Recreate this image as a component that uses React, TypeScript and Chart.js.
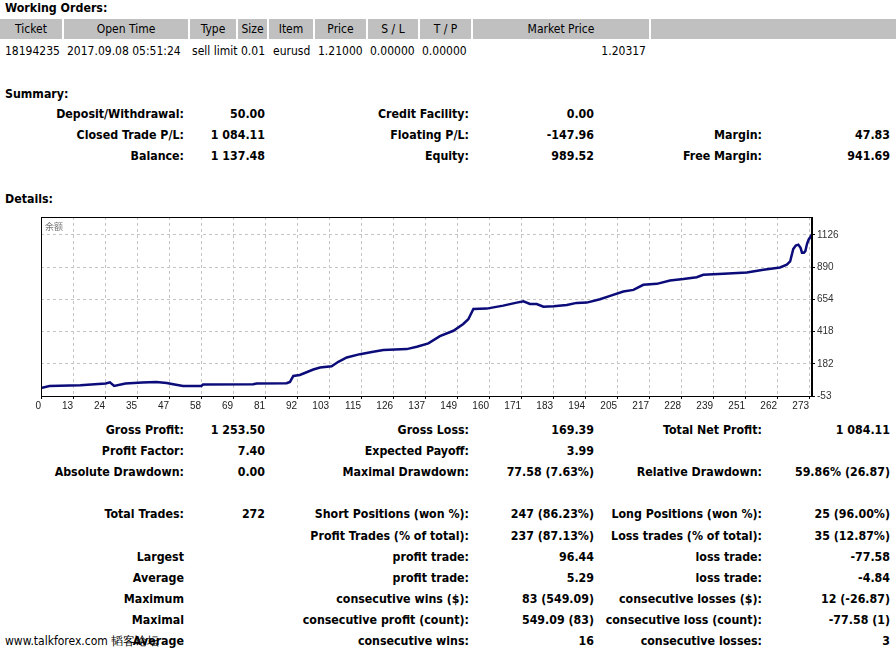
import React, { useEffect, useRef } from "react";
import { Chart, registerables } from "chart.js";

Chart.register(...registerables);

// ---------- data ----------
const xTickLabels = ["0", "13", "24", "35", "47", "58", "69", "81", "92", "103", "115", "126", "137", "149", "160", "171", "183", "194", "205", "217", "228", "239", "251", "262", "273"];
const yTickValues = [-53, 182, 418, 654, 890, 1126];
const tradeIndex = [0, 3, 14, 23, 24.5, 26, 30, 36, 41, 44.7, 47, 50.5, 57, 57.6, 75.4, 76.7, 87.3, 88.5, 89.7, 92, 96.8, 99.2, 103.3, 105.7, 108.7, 113.4, 118.1, 121.7, 130, 133.6, 137.7, 141.8, 146.6, 150.1, 151.9, 153.7, 158.4, 164.3, 169.1, 171.5, 173.8, 176.2, 178.6, 182.2, 186.9, 190.4, 194, 198.7, 202.3, 207, 210.6, 214.1, 218.9, 223.6, 228.3, 233.1, 235.4, 242.6, 250.9, 256.8, 262.7, 265.1, 266.3, 267.4, 268.3, 269.2, 270, 270.5, 271.2, 271.7, 272.3, 272.9, 273.5, 274];
const balance = [6, 20, 26, 38, 47, 21, 38, 45, 50, 42, 33, 20, 20, 31, 33, 38, 40, 50, 94, 101, 141, 155, 165, 197, 229, 253, 270, 283, 290, 307, 332, 385, 424, 474, 508, 584, 586, 608, 630, 640, 620, 620, 600, 603, 613, 628, 630, 655, 679, 711, 723, 760, 767, 791, 802, 816, 833, 841, 850, 870, 887, 907, 931, 1022, 1048, 1054, 1030, 995, 995, 1006, 1060, 1092, 1110, 1127];

const orderHeaders = ["Ticket", "Open Time", "Type", "Size", "Item", "Price", "S / L", "T / P", "Market Price", ""];
const orderRow = ["18194235", "2017.09.08 05:51:24", "sell limit", "0.01", "eurusd", "1.21000", "0.00000", "0.00000", "1.20317"];

const summaryRows = [
  ["Deposit/Withdrawal:", "50.00", "Credit Facility:", "0.00", "", ""],
  ["Closed Trade P/L:", "1 084.11", "Floating P/L:", "-147.96", "Margin:", "47.83"],
  ["Balance:", "1 137.48", "Equity:", "989.52", "Free Margin:", "941.69"],
];

const statRows = [
  ["Gross Profit:", "1 253.50", "Gross Loss:", "169.39", "Total Net Profit:", "1 084.11"],
  ["Profit Factor:", "7.40", "Expected Payoff:", "3.99", "", ""],
  ["Absolute Drawdown:", "0.00", "Maximal Drawdown:", "77.58 (7.63%)", "Relative Drawdown:", "59.86% (26.87)"],
  ["Total Trades:", "272", "Short Positions (won %):", "247 (86.23%)", "Long Positions (won %):", "25 (96.00%)"],
  ["", "", "Profit Trades (% of total):", "237 (87.13%)", "Loss trades (% of total):", "35 (12.87%)"],
  ["Largest", "", "profit trade:", "96.44", "loss trade:", "-77.58"],
  ["Average", "", "profit trade:", "5.29", "loss trade:", "-4.84"],
  ["Maximum", "", "consecutive wins ($):", "83 (549.09)", "consecutive losses ($):", "12 (-26.87)"],
  ["Maximal", "", "consecutive profit (count):", "549.09 (83)", "consecutive loss (count):", "-77.58 (1)"],
  ["Average", "", "consecutive wins:", "16", "consecutive losses:", "3"],
];

// ---------- layout (px) ----------
const W = 896;
const FONT = "Tahoma, 'DejaVu Sans Condensed', 'Liberation Sans', sans-serif";
const BOLD_SIZE = 12.3;
const headerCells = [[0, 62], [64, 188], [190, 236], [238, 267], [269, 313], [315, 366], [368, 418], [420, 471], [473, 649], [651, 896]];
const rowLeft = [5, 67, 192, 241, 273, 318, 370, 422];
const colRight = [184, 265, 469, 594, 762, 890];
const summaryY = [114, 135, 156];
const statY = [430, 451, 472, 514, 536, 557, 578, 599, 620, 641];
const X_STEP = 11.375;
const X_MAX = (771 / 32) * X_STEP;

const Txt = ({ x, y, text, right = false, bold = false, size = BOLD_SIZE }: any) => (
  <div
    style={{
      position: "absolute",
      top: y - 8,
      left: right ? undefined : x,
      right: right ? W - x : undefined,
      lineHeight: "16px",
      fontSize: size,
      fontWeight: bold ? 700 : 400,
      whiteSpace: "nowrap",
      color: "#000",
    }}
  >
    {text}
  </div>
);

const framePlugin = {
  id: "frame",
  afterDraw(chart: any) {
    const { ctx, chartArea } = chart;
    ctx.save();
    ctx.strokeStyle = "#000";
    ctx.lineWidth = 1;
    ctx.strokeRect(chartArea.left + 0.5, chartArea.top + 0.5, chartArea.right - chartArea.left - 1, chartArea.bottom - chartArea.top);
    ctx.fillStyle = "#777";
    ctx.font = "9px 'Noto Sans CJK SC'";
    ctx.textBaseline = "top";
    ctx.fillText("余额", chartArea.left + 4, chartArea.top + 5);
    ctx.restore();
  },
};

function BalanceChart() {
  const ref = useRef<HTMLCanvasElement>(null);
  useEffect(() => {
    if (!ref.current) return;
    const chart = new Chart(ref.current, {
      type: "line",
      data: {
        datasets: [
          {
            data: tradeIndex.map((t, i) => ({ x: t, y: balance[i] })),
            borderColor: "#0b0b7a",
            borderWidth: 2.5,
            pointRadius: 0,
            tension: 0,
            fill: false,
          },
        ],
      },
      options: {
        animation: false,
        responsive: false,
        events: [],
        layout: { padding: { left: 41, top: 17, right: 0, bottom: 0 } },
        plugins: { legend: { display: false }, tooltip: { enabled: false } },
        scales: {
          x: {
            type: "linear",
            min: 0,
            max: X_MAX,
            afterBuildTicks: (s: any) => {
              s.ticks = xTickLabels.map((_, i) => ({ value: i * X_STEP }));
            },
            afterFit: (s: any) => {
              s.height = 24;
            },
            ticks: {
              autoSkip: false,
              maxRotation: 0,
              align: "end",
              padding: 1,
              color: "#222",
              font: { family: "'Liberation Sans'", size: 10 },
              callback: (_v: any, i: number) => xTickLabels[i],
            },
            grid: {
              color: "#c4c4c4",
              lineWidth: 1,
              tickLength: 3,
              tickColor: "#000",
              tickBorderDash: [],
            },
            border: { display: true, color: "#000", dash: [3, 3] },
          },
          y: {
            position: "right",
            min: -53,
            max: 1256,
            afterBuildTicks: (s: any) => {
              s.ticks = yTickValues.map((v) => ({ value: v }));
            },
            afterFit: (s: any) => {
              s.width = W - 812;
            },
            ticks: {
              padding: 2,
              color: "#333",
              font: { family: "'Liberation Sans'", size: 10 },
              callback: (v: any) => String(v),
            },
            grid: {
              color: "#c4c4c4",
              lineWidth: 1,
              tickLength: 3,
              tickColor: "#000",
              tickBorderDash: [],
            },
            border: { display: true, color: "#000", dash: [3, 3] },
          },
        },
      },
      plugins: [framePlugin],
    } as any);
    return () => chart.destroy();
  }, []);
  return (
    <canvas
      ref={ref}
      width={W}
      height={220}
      style={{ position: "absolute", left: 0, top: 200, width: W, height: 220 }}
    />
  );
}

export default function App() {
  return (
    <div style={{ position: "absolute", left: 0, top: 0, width: W, height: 650, background: "#fff", fontFamily: FONT, overflow: "hidden" }}>
      <Txt x={5} y={8} text="Working Orders:" bold />
      {orderHeaders.map((h, i) => (
        <div
          key={"h" + i}
          style={{
            position: "absolute",
            left: headerCells[i][0],
            top: 19,
            width: headerCells[i][1] - headerCells[i][0],
            height: 20,
            lineHeight: "21px",
            background: "#c0c0c0",
            textAlign: "center",
            fontSize: 12,
            whiteSpace: "nowrap",
          }}
        >
          {h}
        </div>
      ))}
      {orderRow.slice(0, 8).map((v, i) => (
        <Txt key={"r" + i} x={rowLeft[i]} y={51} text={v} size={12} />
      ))}
      <Txt x={646} y={51} text={orderRow[8]} size={12} right />

      <Txt x={5} y={94} text="Summary:" bold />
      {summaryRows.map((row, r) =>
        row.map((c, k) => (c ? <Txt key={"s" + r + "-" + k} x={colRight[k]} y={summaryY[r]} text={c} right bold /> : null))
      )}

      <Txt x={5} y={199} text="Details:" bold />
      <BalanceChart />

      {statRows.map((row, r) =>
        row.map((c, k) => (c ? <Txt key={"t" + r + "-" + k} x={colRight[k]} y={statY[r]} text={c} right bold /> : null))
      )}
      <Txt x={5} y={641} text="www.talkforex.com 韬客论坛" size={12} />
    </div>
  );
}
